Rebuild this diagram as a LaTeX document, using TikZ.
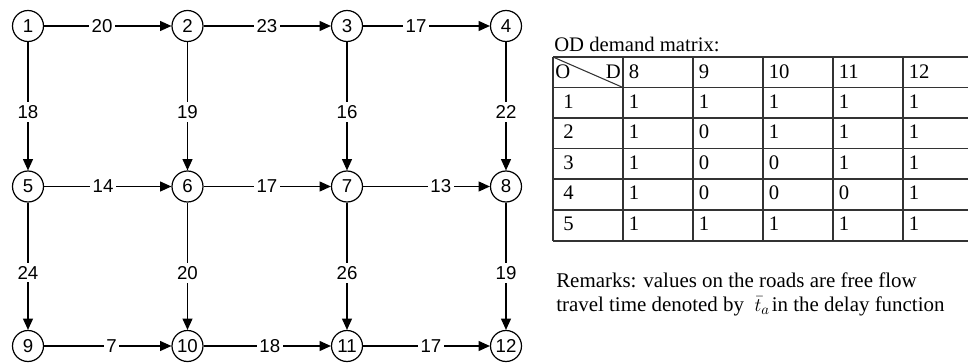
\documentclass[tikz,border=0pt]{standalone}
\usepackage{fontspec}
\setmainfont{Liberation Serif}
\newfontfamily\netfont{Liberation Sans}
\usetikzlibrary{arrows.meta}
\begin{document}
\begin{tikzpicture}[x=0.75pt,y=-0.75pt,
  town/.style={circle,draw,line width=0.9pt,minimum size=23.25pt,inner sep=0pt,
    font=\netfont\fontsize{14}{14}\selectfont},
  road/.style={line width=0.9pt,-{Triangle[length=8.5pt,width=7.5pt]}},
  cost/.style={fill=white,inner xsep=2pt,inner ysep=2.5pt,
    font=\netfont\fontsize{14}{14}\selectfont},
  cell/.style={anchor=base west,inner sep=0pt,font=\fontsize{15.5}{18}\selectfont},
  note/.style={anchor=base west,inner sep=0pt,font=\fontsize{15.7}{18}\selectfont},
  rule/.style={line width=0.8pt,draw=black!80}]
\useasboundingbox (0,0) rectangle (968,364);

% ---- road network ----
\node[town] (n1)  at (28,26)    {1};
\node[town] (n2)  at (187.5,26) {2};
\node[town] (n3)  at (347,26)   {3};
\node[town] (n4)  at (506,26)   {4};
\node[town] (n5)  at (28,186.5)    {5};
\node[town] (n6)  at (187.5,186.5) {6};
\node[town] (n7)  at (347,186.5)   {7};
\node[town] (n8)  at (506,186.5)   {8};
\node[town] (n9)  at (28,346)    {9};
\node[town] (n10) at (187.5,346) {10};
\node[town] (n11) at (347,346)   {11};
\node[town] (n12) at (506,346)   {12};

% horizontal roads
\draw[road] (n1) -- node[cost,pos=0.455] {20} (n2);
\draw[road] (n2) -- node[cost,pos=0.498] {23} (n3);
\draw[road] (n3) -- node[cost,pos=0.418] {17} (n4);
\draw[road] (n5) -- node[cost,pos=0.463] {14} (n6);
\draw[road] (n6) -- node[cost,pos=0.498] {17} (n7);
\draw[road] (n7) -- node[cost,pos=0.613] {13} (n8);
\draw[road] (n9) -- node[cost,pos=0.53] {7} (n10);
\draw[road] (n10) -- node[cost,pos=0.52] {18} (n11);
\draw[road] (n11) -- node[cost,pos=0.535] {17} (n12);

% vertical roads
\draw[road] (n1) -- node[cost,pos=0.545] {18} (n5);
\draw[road] (n2) -- node[cost,pos=0.545] {19} (n6);
\draw[road] (n3) -- node[cost,pos=0.545] {16} (n7);
\draw[road] (n4) -- node[cost,pos=0.545] {22} (n8);
\draw[road] (n5) -- node[cost,pos=0.55] {24} (n9);
\draw[road] (n6) -- node[cost,pos=0.55] {20} (n10);
\draw[road] (n7) -- node[cost,pos=0.55] {26} (n11);
\draw[road] (n8) -- node[cost,pos=0.55] {19} (n12);

% ---- OD demand matrix ----
\node[cell] (title) at (554,51) {OD demand matrix:};
\foreach \y in {57,87.5,118,148.5,179,210,241}
  \draw[rule] (553,\y) -- (973,\y);
\foreach \x in {553,623,693,763,833,903,973}
  \draw[rule] (\x,57) -- (\x,241);
\draw[rule] (553,57) -- (623,87.5);
\node[cell] (hO) at (555,78) {O};
\node[cell,anchor=base east] (hD) at (621,78) {D};
\foreach \d [count=\j] in {8,9,10,11,12}
  \node[cell] (h\d) at ({623+70*(\j-1)+5.5},78) {\d};
\foreach \o/\a/\b/\c/\d/\e [count=\i] in
    {1/1/1/1/1/1, 2/1/0/1/1/1, 3/1/0/0/1/1, 4/1/0/0/0/1, 5/1/1/1/1/1} {
  \pgfmathsetmacro\yb{108+30.6*(\i-1)}
  \node[cell] (o\o)   at (563,\yb)   {\o};
  \node[cell] (v\o-8)  at (628.5,\yb) {\a};
  \node[cell] (v\o-9)  at (698.5,\yb) {\b};
  \node[cell] (v\o-10) at (768.5,\yb) {\c};
  \node[cell] (v\o-11) at (838.5,\yb) {\d};
  \node[cell] (v\o-12) at (908.5,\yb) {\e};
}

% ---- remarks ----
\node[note] (rem1) at (556,287) {Remarks: values on the roads are free flow};
\node[note] (rem2) at (556,311.5)
  {travel time denoted by\hspace{8pt}$\bar{t}_{a}$\hspace{1.5pt}in the delay function};
\end{tikzpicture}
\end{document}
